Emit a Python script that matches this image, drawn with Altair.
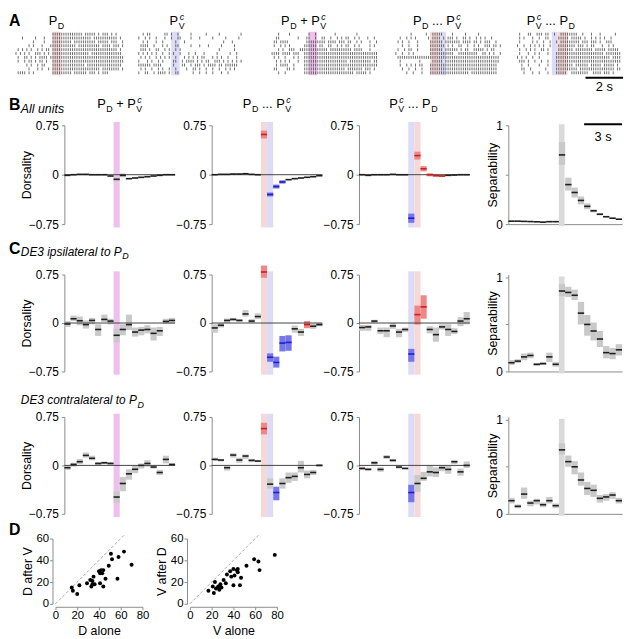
import altair as alt
import pandas as pd

FONT = "Liberation Sans"
AX = "#8c8c8c"
DEBUG_ANCHOR = False

# ---------------- time bins (s) ----------------
BIN_START = [-4.0, -3.5, -3.0, -2.5, -2.0, -1.5, -1.0, -0.5, 0.0, 0.5, 1.0, 1.5, 2.0, 2.5, 3.0, 3.5, 4.0, 4.5]
BIN_END = [-3.5, -3.0, -2.5, -2.0, -1.5, -1.0, -0.5, 0.0, 0.5, 1.0, 1.5, 2.0, 2.5, 3.0, 3.5, 4.0, 4.5, 5.0]

# ---------------- B: all units ----------------
B_MIX = dict(
    mean=[-0.01, 0.0, 0.005, 0.005, 0.0, 0.0, 0.0, -0.02, -0.07, -0.01, -0.06, -0.05, -0.04, -0.03, -0.02, -0.01, 0.0, 0.0],
    lo=[-0.02, -0.01, -0.005, -0.005, -0.01, -0.01, -0.01, -0.03, -0.10, -0.04, -0.07, -0.06, -0.05, -0.04, -0.03, -0.02, -0.01, -0.01],
    hi=[0.0, 0.01, 0.015, 0.015, 0.01, 0.01, 0.01, -0.01, -0.04, 0.02, -0.05, -0.04, -0.03, -0.02, -0.01, 0.0, 0.01, 0.01],
    cat="kkkkkkkkkkkkkkkkkk")
B_DV = dict(
    mean=[0.0, 0.005, 0.005, 0.01, 0.01, 0.015, 0.005, 0.0, 0.61, -0.30, -0.18, -0.11, -0.075, -0.06, -0.05, -0.04, -0.03, -0.015],
    lo=[-0.01, -0.005, -0.005, 0.0, 0.0, 0.005, -0.005, -0.01, 0.55, -0.33, -0.21, -0.135, -0.085, -0.07, -0.06, -0.05, -0.04, -0.025],
    hi=[0.01, 0.015, 0.015, 0.02, 0.02, 0.025, 0.015, 0.01, 0.67, -0.27, -0.15, -0.085, -0.065, -0.05, -0.04, -0.03, -0.02, -0.005],
    cat="kkkkkkkkrbbbkkkkkk")
B_VD = dict(
    mean=[0.0, -0.01, 0.0, 0.0, 0.0, 0.005, 0.0, 0.0, -0.66, 0.29, 0.09, 0.0, -0.015, -0.02, -0.01, -0.005, 0.0, 0.0],
    lo=[-0.01, -0.02, -0.01, -0.01, -0.01, -0.005, -0.01, -0.01, -0.73, 0.23, 0.05, -0.025, -0.03, -0.035, -0.02, -0.015, -0.01, -0.01],
    hi=[0.01, 0.0, 0.01, 0.01, 0.01, 0.015, 0.01, 0.01, -0.59, 0.35, 0.13, 0.02, 0.0, -0.005, 0.0, 0.005, 0.01, 0.01],
    cat="kkkkkkkkbrrrrrkkkk")
B_SEP = dict(
    mean=[0.03, 0.03, 0.028, 0.026, 0.024, 0.02, 0.025, 0.025, 0.70, 0.40, 0.32, 0.24, 0.18, 0.135, 0.10, 0.075, 0.06, 0.05],
    lo=[0.025, 0.025, 0.023, 0.021, 0.019, 0.015, 0.02, 0.02, 0.60, 0.34, 0.27, 0.20, 0.15, 0.12, 0.09, 0.068, 0.055, 0.045],
    hi=[0.035, 0.035, 0.033, 0.031, 0.029, 0.025, 0.03, 0.03, 0.83, 0.47, 0.37, 0.28, 0.21, 0.15, 0.11, 0.082, 0.065, 0.055],
    cat="kkkkkkkkkkkkkkkkkk")

# ---------------- C: DE3 ipsilateral ----------------
C1_MIX = dict(
    mean=[-0.015, 0.066, 0.035, -0.025, 0.04, -0.10, 0.056, 0.03, -0.19, -0.10, -0.025, -0.14, -0.11, -0.10, -0.16, -0.12, 0.025, 0.04],
    lo=[-0.06, 0.03, -0.035, -0.086, -0.02, -0.20, 0.015, -0.02, -0.30, -0.19, -0.11, -0.21, -0.19, -0.16, -0.27, -0.20, -0.01, -0.01],
    hi=[0.03, 0.116, 0.10, 0.04, 0.08, -0.02, 0.13, 0.066, -0.09, -0.02, 0.13, -0.07, -0.06, -0.035, -0.07, -0.06, 0.066, 0.08],
    cat="kkkkkkkkkkkkkkkkkk")
C1_DV = dict(
    mean=[-0.076, -0.035, 0.04, 0.056, 0.04, 0.14, 0.03, 0.10, 0.79, -0.53, -0.61, -0.31, -0.30, -0.09, -0.14, -0.025, -0.05, -0.025],
    lo=[-0.15, -0.07, 0.0, 0.03, 0.02, 0.10, 0.0, 0.06, 0.70, -0.60, -0.69, -0.44, -0.43, -0.15, -0.20, -0.08, -0.09, -0.05],
    hi=[-0.02, 0.0, 0.07, 0.08, 0.06, 0.20, 0.06, 0.15, 0.89, -0.47, -0.52, -0.20, -0.19, -0.04, -0.09, 0.03, -0.01, 0.0],
    cat="kkkkkkkkrbbbbkkrkk")
C1_VD = dict(
    mean=[-0.07, -0.06, 0.03, -0.12, -0.12, -0.045, -0.14, -0.10, -0.48, 0.13, 0.25, -0.10, -0.18, -0.06, -0.10, -0.13, 0.03, 0.066],
    lo=[-0.12, -0.12, 0.0, -0.17, -0.22, -0.09, -0.22, -0.14, -0.60, -0.025, 0.066, -0.16, -0.29, -0.10, -0.20, -0.17, -0.05, -0.02],
    hi=[-0.03, -0.03, 0.05, -0.07, -0.07, 0.0, -0.09, -0.07, -0.40, 0.27, 0.43, -0.05, -0.07, -0.02, -0.02, -0.08, 0.09, 0.17],
    cat="kkkkkkkkbrrkkkkkkk")
C1_SEP = dict(
    mean=[0.093, 0.11, 0.155, 0.17, 0.076, 0.083, 0.155, 0.076, 0.855, 0.84, 0.81, 0.62, 0.50, 0.43, 0.345, 0.20, 0.19, 0.23],
    lo=[0.07, 0.09, 0.12, 0.14, 0.06, 0.07, 0.10, 0.05, 0.80, 0.79, 0.76, 0.50, 0.38, 0.33, 0.26, 0.14, 0.13, 0.17],
    hi=[0.12, 0.13, 0.19, 0.20, 0.09, 0.10, 0.20, 0.10, 0.93, 0.90, 0.87, 0.74, 0.60, 0.52, 0.43, 0.27, 0.25, 0.29],
    cat="kkkkkkkkkkkkkkkkkk")

# ---------------- C: DE3 contralateral ----------------
C2_MIX = dict(
    mean=[-0.036, 0.015, 0.057, 0.155, 0.11, 0.03, 0.04, 0.03, -0.49, -0.28, -0.13, -0.06, 0.0, 0.03, -0.025, -0.11, 0.093, 0.015],
    lo=[-0.07, -0.02, 0.02, 0.12, 0.08, 0.0, 0.02, 0.01, -0.58, -0.40, -0.22, -0.12, -0.05, -0.02, -0.05, -0.15, 0.03, -0.01],
    hi=[0.0, 0.04, 0.10, 0.20, 0.15, 0.05, 0.06, 0.05, -0.40, -0.18, -0.06, 0.0, 0.03, 0.08, 0.0, -0.07, 0.15, 0.03],
    cat="kkkkkkkkkkkkkkkkkk")
C2_DV = dict(
    mean=[0.093, 0.083, -0.036, 0.16, 0.083, 0.145, 0.078, 0.067, 0.57, -0.29, -0.42, -0.28, -0.19, -0.17, -0.036, -0.14, -0.11, 0.0],
    lo=[0.07, 0.06, -0.08, 0.12, 0.04, 0.10, 0.05, 0.05, 0.48, -0.36, -0.54, -0.36, -0.27, -0.24, -0.11, -0.20, -0.15, -0.02],
    hi=[0.12, 0.10, 0.0, 0.19, 0.12, 0.17, 0.10, 0.08, 0.66, -0.20, -0.33, -0.20, -0.11, -0.11, 0.07, -0.08, -0.07, 0.02],
    cat="kkkkkkkkrkbkkkkkkk")
C2_VD = dict(
    mean=[-0.047, -0.062, 0.04, -0.062, 0.13, 0.078, -0.026, -0.047, -0.42, -0.28, -0.20, -0.10, -0.11, -0.036, -0.062, 0.057, -0.10, 0.0],
    lo=[-0.07, -0.08, 0.01, -0.10, 0.10, 0.05, -0.05, -0.06, -0.57, -0.41, -0.24, -0.17, -0.18, -0.09, -0.13, 0.02, -0.16, -0.04],
    hi=[-0.02, -0.04, 0.07, -0.03, 0.16, 0.10, 0.0, -0.03, -0.30, -0.15, -0.10, 0.0, -0.03, 0.0, -0.01, 0.08, -0.05, 0.06],
    cat="kkkkkkkkbkkkkkkkkk")
C2_SEP = dict(
    mean=[0.14, 0.08, 0.21, 0.115, 0.14, 0.097, 0.14, 0.087, 0.68, 0.555, 0.50, 0.36, 0.27, 0.25, 0.165, 0.18, 0.20, 0.14],
    lo=[0.11, 0.06, 0.16, 0.08, 0.10, 0.07, 0.11, 0.06, 0.63, 0.50, 0.42, 0.30, 0.20, 0.18, 0.12, 0.14, 0.16, 0.11],
    hi=[0.17, 0.10, 0.28, 0.14, 0.16, 0.12, 0.18, 0.11, 0.75, 0.62, 0.56, 0.44, 0.34, 0.31, 0.20, 0.21, 0.23, 0.17],
    cat="kkkkkkkkkkkkkkkkkk")

# ---------------- D: scatter ----------------
D_ALONE = [15, 16, 20, 22, 29, 32, 33, 34, 34, 35, 36, 40, 41, 41, 42, 43, 44, 44, 46, 49, 51, 52, 57, 58, 63, 70]
D_AFTER_V = [15, 12, 9, 17, 19, 22, 16, 21, 18, 25, 18, 30, 19, 28, 31, 28, 31, 16, 23, 35, 46, 41, 23, 43, 48, 36]
V_ALONE = [17, 21, 22, 23, 24, 26, 27, 28, 29, 31, 33, 34, 37, 38, 40, 40, 41, 43, 44, 44, 46, 47, 52, 59, 63, 64, 78]
V_AFTER_D = [12, 16, 10, 20, 14, 16, 13, 18, 15, 22, 19, 27, 30, 25, 17, 32, 26, 31, 32, 29, 17, 24, 35, 41, 39, 31, 45]

# ---------------- A: spike rasters (one string per trial, '|' = spike) ----------------
R_PD = [
    "                 |||||||||||||| ||||| | ||| | |   ",
    "   |     |   |   |||||||||||||||||| ||||||||||| | ",
    "        |    |   ||||||||| |||||||||| ||||| |||  |",
    "      | |   |   |||||||||||| |||||||||| |||| ||| |",
    " | | | |  | | || |||||||||||||||||||||||||||||| | ",
    "| | | |  ||| | | ||||||||||||||||| |||||||||||||| ",
    " |  || | | |||| |||||||||||||||||||||||||||||||||| ",
    " |  | || | || |  ||||||||||||||||||||||||||||||||| ",
    "     | |  | ||   ||||||||||||||| ||||||||||||||||  ",
    "      |   | |  | |||||||||||||||||||||| |||||||| | ",
    " |||| | |        ||||||||| |||||| ||| | |||        ",
]
R_PV = [
    "   | ||      || |  |     |      |     |         |  ",
    " |  | |  |   |  |  ||    |   |     |     |     |  ",
    "   | |   |  |     |   |                 |   |     ",
    "  ||||  |   | |   ||     |   |   |     |     |    ",
    "  ||| |  ||  | |  | |                 |      |    ",
    " | | | | |  |  | |  |   |  |   |     |     |  |   ",
    "  | | |  | | | |  |   | | | | ||   | | |  |   |   ",
    " |   | |  | |    ||  | |||| | | ||  ||| | | | | |  ",
    " |||||| ||||     |   ||  | ||| | |||| || ||||||    ",
    "  | |  |  | |  |  |    |  || |  |  |  |  | | |    ",
    " |  ||  | |||| |  ||      |  |  |  |   |  |       ",
]
R_MIX = [
    "   |    |        |  |        |         |          ",
    "  ||        |   ||  |  ||  |  | | ||  | |   |  |  ",
    " || ||||        ||||||||| |||| ||| ||  | |   |  | ",
    " |  | | |      |||||| ||  ||  | | ||  | |    | |  ",
    "   | |  |||  ||||||||||||| |||||||||| ||||   |    ",
    "|||| |||| |||  |||||||||||||||||||||||||||||||||| ",
    " | |  |   | |  |||||||||||||||||||||||||||||||||| ",
    "  | | | |   |  |||||||||||||||||||| |||||||||| || ",
    "  | ||||  |    |||||||||||||||||||||||||||||||||| ",
    " ||    || |    ||||||||||||||||||| ||||||| ||| |  ",
    "   |  |        ||||||||||||||||||||||| ||||| |    ",
]
R_DV = [
    "        |      |  |||||    |     |     |          ",
    "   |  | | |     | |||| | ||| |  || |  | | |  |    ",
    "  | |  |   |     |||||| ||||||| |||| || | |||  |  ",
    "    |  |   |     ||||||| | |  ||  |  | |  ||| || |",
    "  |  | ||  |     |||||| |||||| | ||  ||||| | ||   ",
    " |  |  | |       |||||||||||  |||||||||  || | |  |",
    "  ||||||||||||||||||||||||||||||||||||||||||||||| ",
    "   |        |     ||||| ||||||||||||||||||||||||| ",
    "   |  | | | ||   ||||||||||||||||||||||||||||||| ",
    "    |  |  |  |   |||||||||||||||||||||||||||||||  ",
    "      |  |   |   |||||||||||||||||| ||||||||||||  ",
]
R_VD = [
    "  |   ||  ||| ||  |  ||||||||  |   |   |      |   ",
    "  | |   |  |  ||    ||||| ||||| |  | | | |  |     ",
    "  |     | |  |  |  | ||||||||| ||| ||| |  |||     ",
    " |  |  | | | |  |   |||||||| ||| | ||   |  | |    ",
    "  |  | | |  || |    ||||||| |||||||| ||||| |||||  ",
    "  |   |  | |   |   |||||||||||||||||||||| ||||||| ",
    " | | |  |  |       ||||||||||||||||||||||||| |||| ",
    "  ||| |  |  |  |   ||||||||||||||||||||||||||||||  ",
    "   |  |    |   |   |||||||| |||||| ||||| ||||| |  ",
    "   ||  |      |    |||||||||| |||||||||||||||| || ",
    "    |   |  |   |   |||||  ||||||||  |||| ||| |    ",
]
R_T0, R_T1, N_SLOTS = -2.0, 3.8, 50
SLOT_T = [R_T0 + (k + 0.5) * (R_T1 - R_T0) / N_SLOTS for k in range(N_SLOTS)]

# ---------------- colours ----------------
BOX = {"k": "#c9c9c9", "r": "#f08787", "b": "#7575ec"}
DASH = {"k": "#1e1e1e", "r": "#c81e1e", "b": "#1e1ec8"}
C_PD, C_PV, C_MIX, C_SEP = "#f5d9d9", "#dcdcf6", "#edc0ed", "#dadada"

DUMMY = pd.DataFrame({"d": [0]})

CW = {'P': 667, 'D': 722, 'V': 667, 'c': 500, '+': 584, ' ': 278, '.': 278, 'E': 667, '3': 556,
      'i': 222, 'p': 556, 's': 500, 'l': 222, 'a': 556, 't': 278, 'e': 556, 'r': 333, 'o': 556,
      'n': 556, 'u': 556}


def tw(s, size):
    return sum(CW[ch] for ch in s) * size / 1000.0


def txt(s, x, y, size=12, style="normal", weight="normal", align="left"):
    return alt.Chart(DUMMY).mark_text(
        text=s, font=FONT, fontSize=size, fontStyle=style, fontWeight=weight,
        align=align, baseline="alphabetic", color="black").encode(x=alt.value(x), y=alt.value(y))


def rich(tokens, x, y, size=13, sub=9, style="normal", center=True):
    items, cur = [], 0.0
    for kind, s in tokens:
        if kind == "n":
            items.append((s, cur, 0.0, size, style)); cur += tw(s, size)
        elif kind == "g":
            cur += tw(" ", size) * s
        elif kind == "s":
            items.append((s, cur + 0.5, 3.5, sub, style)); cur += tw(s, sub) + 0.5
        elif kind == "v":
            items.append(("V", cur + 0.5, 3.5, sub, style))
            items.append(("c", cur + 1.5, -5.5, sub, "italic"))
            cur += tw("V", sub) + 0.5
    x0 = x - cur / 2 if center else x
    return [txt(s, x0 + dx, y + dy, sz, style=st) for s, dx, dy, sz, st in items]


T_PD = [("n", "P"), ("s", "D")]
T_PV = [("n", "P"), ("v", "V")]
T_MIX = [("n", "P"), ("s", "D"), ("g", 1), ("n", "+"), ("g", 1), ("n", "P"), ("v", "V")]
T_DV = [("n", "P"), ("s", "D"), ("g", 1), ("n", "..."), ("g", 1), ("n", "P"), ("v", "V")]
T_VD = [("n", "P"), ("v", "V"), ("g", 1), ("n", "..."), ("g", 1), ("n", "P"), ("s", "D")]


def spacer(w, h):
    return alt.Chart(DUMMY).mark_rect(opacity=0).encode(
        x=alt.value(0), x2=alt.value(1), y=alt.value(0), y2=alt.value(1)).properties(width=w, height=h)


def anchor(T, H, B, col="red"):
    return alt.Chart(DUMMY).mark_rect(opacity=1 if DEBUG_ANCHOR else 0, color=col).encode(
        x=alt.value(-7), x2=alt.value(-6), y=alt.value(-T), y2=alt.value(H + B))


def yaxis(values, expr, title, titleX, h):
    kw = dict(values=values, labelExpr=expr, tickSize=3, labelPadding=3, labelFontSize=12,
              labelFont=FONT, labelColor="black", domainColor=AX, tickColor=AX, grid=False,
              titleFont=FONT, titleFontSize=12.5, titleFontWeight="normal", titleColor="black")
    if title:
        kw.update(title=title, titleX=titleX, titleY=h / 2)
    else:
        kw.update(title=None)
    return alt.Axis(**kw)


def bin_frame(d):
    return pd.DataFrame({"t0": BIN_START, "t1": BIN_END, "m": d["mean"], "lo": d["lo"], "hi": d["hi"],
                         "fill": [BOX[c] for c in d["cat"]], "dash": [DASH[c] for c in d["cat"]]})


def trace_layers(d, bands, xs, ys, xax, yax, band_y, zero=True):
    df = bin_frame(d)
    X = lambda f: alt.X(f, type="quantitative", scale=xs, axis=xax)
    Y = lambda f: alt.Y(f, type="quantitative", scale=ys, axis=yax)
    bdf = pd.DataFrame(bands, columns=["b0", "b1", "col"])
    bdf["y0"] = band_y[0]
    bdf["y1"] = band_y[1]
    layers = [
        alt.Chart(bdf).mark_rect().encode(x=X("b0"), x2=alt.X2("b1"), y=Y("y0"), y2=alt.Y2("y1"),
                                          color=alt.Color("col:N", scale=None)),
        alt.Chart(df).mark_rect().encode(x=X("t0"), x2=alt.X2("t1"), y=Y("lo"), y2=alt.Y2("hi"),
                                         color=alt.Color("fill:N", scale=None)),
    ]
    if zero:
        layers.append(alt.Chart(pd.DataFrame({"a": [-4.0], "b": [5.0], "z": [0.0]})).mark_rule(
            color="#444444", strokeWidth=1).encode(x=X("a"), x2=alt.X2("b"), y=Y("z")))
    layers.append(alt.Chart(df).mark_rule(strokeWidth=1.6).encode(
        x=X("t0"), x2=alt.X2("t1"), y=Y("m"), color=alt.Color("dash:N", scale=None)))
    return layers, X, Y


def dors_panel(d, bands, h, title=None, w=112):
    xs = alt.Scale(domain=[-4, 5], nice=False, zero=False)
    ys = alt.Scale(domain=[-0.75, 0.75], nice=False, zero=False)
    yax = yaxis([-0.75, 0, 0.75],
                "datum.value == 0 ? '0' : (datum.value > 0 ? '0.75' : '\u22120.75')",
                title, -31, h)
    layers, X, Y = trace_layers(d, bands, xs, ys, None, yax, (-0.8, 0.8))
    return alt.layer(*layers).properties(width=w, height=h)


def sep_panel(d, h, ytop, scalebar=False, w=115):
    xs = alt.Scale(domain=[-4, 5], nice=False, zero=False)
    ys = alt.Scale(domain=[0, ytop], nice=False, zero=False)
    yax = yaxis([0, 0.5, 1], "datum.value == 0.5 ? '' : (datum.value == 0 ? '0' : '1')",
                "Separability", -9, h)
    xax = alt.Axis(title=None, labels=False, ticks=False, grid=False, domainColor=AX)
    layers, X, Y = trace_layers(d, [(0.0, 0.45, C_SEP)], xs, ys, xax, yax, (-0.02, 1.01), zero=False)
    if scalebar:
        layers.append(alt.Chart(pd.DataFrame({"a": [2.0], "b": [5.0]})).mark_rule(
            color="black", strokeWidth=2).encode(x=X("a"), x2=alt.X2("b"), y=alt.value(-1)))
        layers.append(alt.Chart(pd.DataFrame({"a": [3.5]})).mark_text(
            text="3 s", font=FONT, fontSize=13, align="center", baseline="alphabetic").encode(
            x=X("a"), y=alt.value(16)))
    return alt.layer(*layers).properties(width=w, height=h)


def raster_panel(rows, bands, extra=(), scalebar=False, w=110, h=43):
    recs = []
    for r, s in enumerate(rows):
        s = s.ljust(N_SLOTS)[:N_SLOTS]
        for k, ch in enumerate(s):
            if ch == "|":
                recs.append({"t": SLOT_T[k], "r": r + 0.1, "r2": r + 0.85})
    sdf = pd.DataFrame(recs)
    xs = alt.Scale(domain=[R_T0, R_T1], nice=False, zero=False)
    ys = alt.Scale(domain=[0, 11], nice=False, zero=False, reverse=True)
    X = lambda f: alt.X(f, type="quantitative", scale=xs, axis=None)
    Y = lambda f: alt.Y(f, type="quantitative", scale=ys, axis=None)
    bdf = pd.DataFrame(bands, columns=["b0", "b1", "col"])
    bdf["y0"] = -0.15
    bdf["y1"] = 11.1
    layers = [
        alt.Chart(bdf).mark_rect().encode(x=X("b0"), x2=alt.X2("b1"), y=Y("y0"), y2=alt.Y2("y1"),
                                          color=alt.Color("col:N", scale=None)),
        alt.Chart(sdf).mark_rule(color="#3c3c3c", strokeWidth=0.75).encode(
            x=X("t"), y=Y("r"), y2=alt.Y2("r2")),
    ]
    if scalebar:
        layers.append(alt.Chart(pd.DataFrame({"a": [1.8], "b": [3.8]})).mark_rule(
            color="black", strokeWidth=2).encode(x=X("a"), x2=alt.X2("b"), y=alt.value(46)))
        layers.append(alt.Chart(pd.DataFrame({"a": [2.8]})).mark_text(
            text="2 s", font=FONT, fontSize=13, align="center", baseline="alphabetic").encode(
            x=X("a"), y=alt.value(59)))
    layers += list(extra)
    return alt.layer(*layers).properties(width=w, height=h)


def scatter_panel(xv, yv, xt, yt):
    df = pd.DataFrame({"x": xv, "y": yv})
    xs = alt.Scale(domain=[0, 80], nice=False, zero=False)
    ys = alt.Scale(domain=[0, 60], nice=False, zero=False)
    xax = alt.Axis(values=[0, 20, 40, 60, 80], title=xt, offset=3, tickSize=3, labelPadding=0,
                   labelFlush=False, labelFontSize=11.5, labelFont=FONT, labelColor="black",
                   domainColor=AX, tickColor=AX, grid=False, titleFont=FONT, titleFontSize=12.5,
                   titleFontWeight="normal", titleColor="black", titleBaseline="alphabetic",
                   titleX=44, titleY=28)
    yax = alt.Axis(values=[0, 20, 40, 60], title=yt, offset=3, tickSize=3, labelPadding=1,
                   labelFontSize=11.5, labelFont=FONT, labelColor="black", domainColor=AX,
                   tickColor=AX, grid=False, titleFont=FONT, titleFontSize=12.5,
                   titleFontWeight="normal", titleColor="black", titleX=-18.3, titleY=33)
    diag = pd.DataFrame({"x0": [0], "x1": [64], "y0": [0], "y1": [64]})
    layers = [
        alt.Chart(diag).mark_rule(color="#a8a8a8", strokeDash=[3, 2], strokeWidth=1).encode(
            x=alt.X("x0:Q", scale=xs, axis=xax), x2=alt.X2("x1"),
            y=alt.Y("y0:Q", scale=ys, axis=yax), y2=alt.Y2("y1")),
        alt.Chart(df).mark_circle(size=16, color="black", opacity=1).encode(
            x=alt.X("x:Q", scale=xs, axis=xax), y=alt.Y("y:Q", scale=ys, axis=yax)),
    ]
    return alt.layer(*layers).properties(width=88, height=66)


# ---------------- row A ----------------
A_TEXT = [anchor(21, 43, 20, "red"), txt("A", -6, -6, 16, weight="bold")]
A_TEXT += rich(T_PD, 42, -7)
A_TEXT += rich(T_PV, 164, -7)
A_TEXT += rich(T_MIX, 292, -7)
A_TEXT += rich(T_DV, 427, -7)
A_TEXT += rich(T_VD, 542, -7)

R1 = raster_panel(R_PD, [(0.0, 0.45, C_PD)], extra=A_TEXT)
R2 = raster_panel(R_PV, [(-0.1, 0.35, C_PV)])
R3 = raster_panel(R_MIX, [(0.0, 0.45, C_MIX)])
R4 = raster_panel(R_DV, [(0.0, 0.5, C_PD), (0.5, 0.85, C_PV)])
R5 = raster_panel(R_VD, [(0.0, 0.32, C_PV), (0.32, 0.85, C_PD)], scalebar=True)
rowA = alt.hconcat(R1, spacer(12, 43), R2, spacer(27, 43), R3, spacer(13, 43), R4,
                   spacer(13, 43), R5, spacing=0, bounds="flush")

BANDS_MIX = [(0.0, 0.5, C_MIX)]
BANDS_DV = [(0.0, 0.5, C_PD), (0.5, 1.0, C_PV)]
BANDS_VD = [(0.0, 0.5, C_PV), (0.5, 1.0, C_PD)]

# ---------------- row B ----------------
B_TEXT = [anchor(31, 100, 16, "blue"), txt("B", -6, -15, 16, weight="bold"),
          txt("All units", 6, -12, 12.5, style="italic")]
B_TEXT += rich(T_MIX, 106, -17)
B_TEXT += rich(T_DV, 255, -17)
B_TEXT += rich(T_VD, 403, -17)
rowB = alt.hconcat(
    alt.layer(*B_TEXT).properties(width=50, height=100),
    dors_panel(B_MIX, BANDS_MIX, 100, "Dorsality"), spacer(36.5, 100),
    dors_panel(B_DV, BANDS_DV, 100), spacer(36.5, 100),
    dors_panel(B_VD, BANDS_VD, 100), spacer(39, 100),
    sep_panel(B_SEP, 100, 1.0, scalebar=True),
    spacing=0, bounds="flush")

# ---------------- row C1 ----------------
C1_TEXT = [anchor(35, 98, 20, "green"), txt("C", -6, -21, 16, weight="bold")]
C1_TEXT += rich([("n", "DE3 ipsilateral to P"), ("s", "D")], 6, -19, size=12, sub=9,
                style="italic", center=False)
rowC1 = alt.hconcat(
    alt.layer(*C1_TEXT).properties(width=50, height=98),
    dors_panel(C1_MIX, BANDS_MIX, 98, "Dorsality"), spacer(36.5, 98),
    dors_panel(C1_DV, BANDS_DV, 98), spacer(36.5, 98),
    dors_panel(C1_VD, BANDS_VD, 98), spacer(39, 98),
    sep_panel(C1_SEP, 98, 1.03),
    spacing=0, bounds="flush")

# ---------------- row C2 ----------------
C2_TEXT = [anchor(26, 98, 7, "orange")]
C2_TEXT += rich([("n", "DE3 contralateral to P"), ("s", "D")], 6, -13, size=12, sub=9,
                style="italic", center=False)
rowC2 = alt.hconcat(
    alt.layer(*C2_TEXT).properties(width=50, height=98),
    dors_panel(C2_MIX, BANDS_MIX, 98, "Dorsality"), spacer(36.5, 98),
    dors_panel(C2_DV, BANDS_DV, 98), spacer(36.5, 98),
    dors_panel(C2_VD, BANDS_VD, 98), spacer(39, 98),
    sep_panel(C2_SEP, 98, 1.03),
    spacing=0, bounds="flush")

# ---------------- row D ----------------
D_TEXT = [anchor(18, 66, 30, "purple"), txt("D", -6, -4, 16, weight="bold")]
rowD = alt.hconcat(
    alt.layer(*D_TEXT).properties(width=40.3, height=66),
    scatter_panel(D_ALONE, D_AFTER_V, "D alone", "D after V"), spacer(48, 66),
    scatter_panel(V_ALONE, V_AFTER_D, "V alone", "V after D"),
    spacing=0, bounds="flush")

chart = alt.vconcat(
    rowA, rowB, rowC1, rowC2, rowD, spacing=0,
    padding={"left": 0, "top": 0, "right": 0, "bottom": 0},
    autosize=alt.AutoSizeParams(type="pad"),
).configure(font=FONT).configure_view(stroke=None)

chart.save("out.html", embed_options={"renderer": "svg", "actions": False})
